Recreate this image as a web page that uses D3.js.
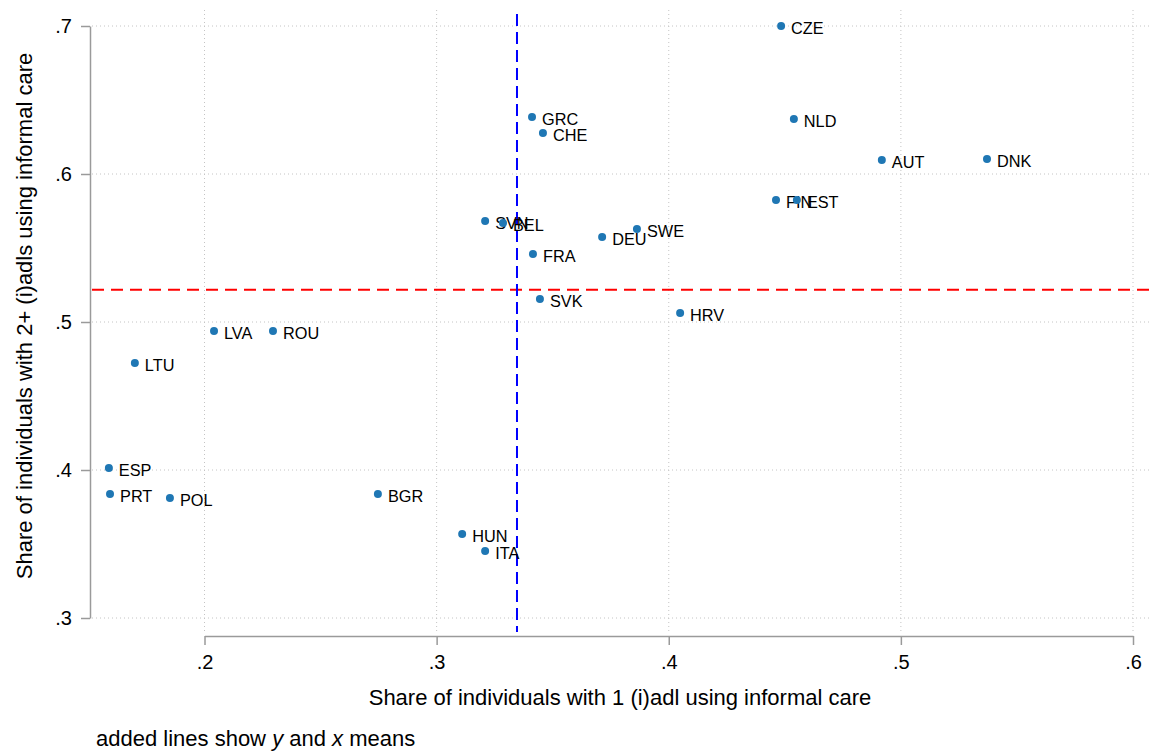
<!DOCTYPE html>
<html>
<head>
<meta charset="utf-8">
<script src="https://cdn.jsdelivr.net/npm/d3@7"></script>
<style>
  body { margin: 0; background: #fff; }
  svg { display: block; font-family: "Liberation Sans", Arial, Helvetica, sans-serif; }
</style>
</head>
<body>
<svg id="chart" width="1150" height="751"></svg>
<script>
// country codes and their shares (x: 1 (i)adl, y: 2+ (i)adls)
const countries = ["CZE", "GRC", "CHE", "NLD", "AUT", "DNK", "FIN", "EST", "SVN", "BEL",
                   "DEU", "SWE", "FRA", "SVK", "HRV", "LVA", "ROU", "LTU", "ESP", "PRT",
                   "POL", "BGR", "HUN", "ITA"];
const xShare = [0.4484, 0.3411, 0.3458, 0.4539, 0.4918, 0.5371, 0.4462, 0.4552, 0.3209, 0.3286,
                0.3713, 0.3863, 0.3415, 0.3445, 0.4049, 0.2041, 0.2295, 0.1700, 0.1588, 0.1593,
                0.1851, 0.2747, 0.3110, 0.3209];
const yShare = [0.7000, 0.6385, 0.6277, 0.6372, 0.6095, 0.6101, 0.5824, 0.5824, 0.5682, 0.5669,
                0.5574, 0.5628, 0.5459, 0.5155, 0.5061, 0.4939, 0.4939, 0.4723, 0.4014, 0.3838,
                0.3811, 0.3838, 0.3568, 0.3453];
const xTicks = [0.2, 0.3, 0.4, 0.5, 0.6];
const yTicks = [0.3, 0.4, 0.5, 0.6, 0.7];

const svg = d3.select("#chart");
const plotLeft = 90, plotRight = 1150, plotTop = 10, plotBottom = 632;

// .2 -> 204.5, .6 -> 1133 ; .7 -> 26, .3 -> 618
const x = d3.scaleLinear().domain([0.2, 0.6]).range([204.5, 1133]);
const y = d3.scaleLinear().domain([0.3, 0.7]).range([618, 26]);

const fmt = d => d3.format(".1f")(d).replace(/^0/, "");

// grid
svg.append("g").selectAll("line").data(yTicks).enter().append("line")
    .attr("x1", plotLeft + 2).attr("x2", plotRight)
    .attr("y1", d => y(d)).attr("y2", d => y(d))
    .attr("stroke", "#c4c4c4").attr("stroke-width", 1).attr("stroke-dasharray", "1,3");
svg.append("g").selectAll("line").data(xTicks).enter().append("line")
    .attr("x1", d => x(d)).attr("x2", d => x(d))
    .attr("y1", plotTop).attr("y2", plotBottom)
    .attr("stroke", "#c4c4c4").attr("stroke-width", 1).attr("stroke-dasharray", "1,3");

// y axis (Stata-style: spans the tick range only)
const yAxis = svg.append("g").attr("transform", `translate(${plotLeft},0)`)
    .call(d3.axisLeft(y).tickValues(yTicks).tickFormat(fmt).tickSize(9).tickPadding(9).tickSizeOuter(0));
yAxis.select(".domain").attr("stroke", "#9a9a9a").attr("stroke-width", 1.5);
yAxis.selectAll(".tick line").attr("stroke", "#9a9a9a").attr("stroke-width", 1.5);
yAxis.selectAll(".tick text").attr("font-size", 20).attr("fill", "#000")
    .attr("font-family", "Liberation Sans, Arial, sans-serif");

// x axis
const xAxis = svg.append("g").attr("transform", "translate(0,636)")
    .call(d3.axisBottom(x).tickValues(xTicks).tickFormat(fmt).tickSize(9).tickPadding(10).tickSizeOuter(0));
xAxis.select(".domain").attr("stroke", "#9a9a9a").attr("stroke-width", 1.5);
xAxis.selectAll(".tick line").attr("stroke", "#9a9a9a").attr("stroke-width", 1.5);
xAxis.selectAll(".tick text").attr("font-size", 20).attr("fill", "#000")
    .attr("font-family", "Liberation Sans, Arial, sans-serif");

// mean lines
const xMean = d3.mean(xShare), yMean = d3.mean(yShare);
svg.append("line")
    .attr("x1", plotLeft + 2).attr("x2", plotRight)
    .attr("y1", y(yMean)).attr("y2", y(yMean))
    .attr("stroke", "#ff0000").attr("stroke-width", 2).attr("stroke-dasharray", "12,7");
svg.append("line")
    .attr("x1", x(xMean)).attr("x2", x(xMean))
    .attr("y1", 14).attr("y2", plotBottom)
    .attr("stroke", "#0000ff").attr("stroke-width", 2).attr("stroke-dasharray", "12,6");

// points + labels
const pts = svg.append("g").selectAll("g").data(countries).enter().append("g");
pts.append("circle")
    .attr("cx", (d, i) => x(xShare[i])).attr("cy", (d, i) => y(yShare[i]))
    .attr("r", 4).attr("fill", "#1f77b4");
pts.append("text")
    .attr("x", (d, i) => x(xShare[i]) + 10).attr("y", (d, i) => y(yShare[i]) + 2)
    .attr("dy", "0.35em").attr("font-size", 16.3).attr("fill", "#000")
    .text(d => d);

// titles
svg.append("text")
    .attr("transform", "translate(32,316) rotate(-90)")
    .attr("text-anchor", "middle").attr("font-size", 22)
    .text("Share of individuals with 2+ (i)adls using informal care");
svg.append("text")
    .attr("x", 620).attr("y", 705)
    .attr("text-anchor", "middle").attr("font-size", 22)
    .text("Share of individuals with 1 (i)adl using informal care");

// note
const note = svg.append("text").attr("x", 96).attr("y", 746).attr("font-size", 22);
note.append("tspan").text("added lines show ");
note.append("tspan").attr("font-style", "italic").text("y");
note.append("tspan").text(" and ");
note.append("tspan").attr("font-style", "italic").text("x");
note.append("tspan").text(" means");
</script>
</body>
</html>
